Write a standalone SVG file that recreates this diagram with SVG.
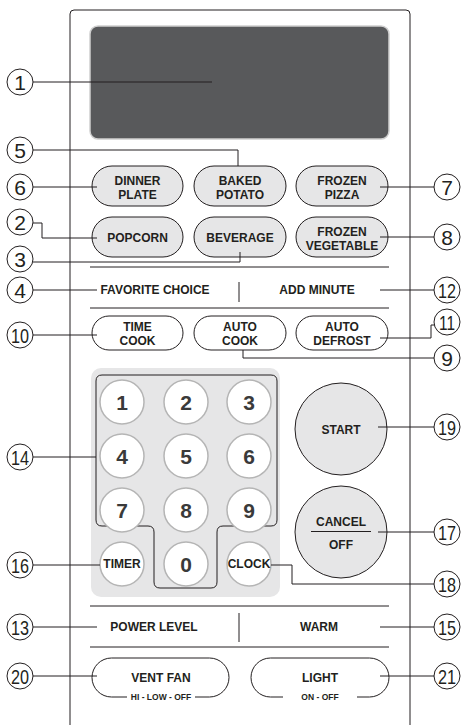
<svg xmlns="http://www.w3.org/2000/svg" width="466" height="725" viewBox="0 0 466 725">
<style>
.ln{fill:none;stroke:#231f20;stroke-width:1}
.pill{fill:#e6e6e7;stroke:#231f20;stroke-width:1}
.wpill{fill:#fff;stroke:#231f20;stroke-width:1}
.t{font-family:"Liberation Sans",Arial,sans-serif;font-weight:bold;font-size:12px;fill:#231f20;text-anchor:middle}
.ts{font-family:"Liberation Sans",Arial,sans-serif;font-weight:bold;font-size:8.5px;fill:#231f20;text-anchor:middle}
.key{fill:#fff;stroke:#b5b5b5;stroke-width:1.5}
.dg{font-family:"Liberation Sans",Arial,sans-serif;font-weight:bold;font-size:21px;fill:#3a3a3a;text-anchor:middle}
.ck{fill:#fff;stroke:#231f20;stroke-width:1}
.cn{font-family:"Liberation Sans",Arial,sans-serif;font-size:21px;fill:#231f20;text-anchor:middle}
</style>
<g id="panel">
<path class="ln" d="M70 725 V14 Q70 10 74 10 H406 Q410 10 410 14 V725" stroke-width="1.2"/>
</g>
<g id="display">
<rect x="90" y="26" width="299" height="113" rx="8" fill="#58595b" stroke="#cfcfcf" stroke-width="1.5"/>
</g>
<g id="dinner-plate">
<rect class="pill" x="92" y="166" width="91" height="40" rx="20"/>
<text class="t" x="137.5" y="185">DINNER</text><text class="t" x="137.5" y="198.5">PLATE</text>
</g>
<g id="baked-potato">
<rect class="pill" x="194" y="166" width="92" height="40" rx="20"/>
<text class="t" x="240" y="185">BAKED</text><text class="t" x="240" y="198.5">POTATO</text>
</g>
<g id="frozen-pizza">
<rect class="pill" x="296" y="166" width="92" height="40" rx="20"/>
<text class="t" x="342" y="185">FROZEN</text><text class="t" x="342" y="198.5">PIZZA</text>
</g>
<g id="popcorn">
<rect class="pill" x="92" y="217" width="91" height="40" rx="20"/>
<text class="t" x="137.5" y="242">POPCORN</text>
</g>
<g id="beverage">
<rect class="pill" x="194" y="217" width="92" height="40" rx="20"/>
<text class="t" x="240" y="242">BEVERAGE</text>
</g>
<g id="frozen-vegetable">
<rect class="pill" x="296" y="217" width="92" height="40" rx="20"/>
<text class="t" x="342" y="236">FROZEN</text><text class="t" x="342" y="249.5">VEGETABLE</text>
</g>
<g id="favorite-add">
<line class="ln" x1="90" y1="267" x2="389" y2="267"/>
<line class="ln" x1="239" y1="282" x2="239" y2="302"/>
<line class="ln" x1="90" y1="308" x2="389" y2="308"/>
<text class="t" x="155" y="294">FAVORITE CHOICE</text>
<text class="t" x="317" y="294">ADD MINUTE</text>
</g>
<g id="time-cook">
<rect class="wpill" x="92" y="316" width="91" height="34" rx="17"/>
<text class="t" x="137.5" y="331">TIME</text><text class="t" x="137.5" y="344.5">COOK</text>
</g>
<g id="auto-cook">
<rect class="wpill" x="194" y="316" width="92" height="34" rx="17"/>
<text class="t" x="240" y="331">AUTO</text><text class="t" x="240" y="344.5">COOK</text>
</g>
<g id="auto-defrost">
<rect class="wpill" x="296" y="316" width="92" height="34" rx="17"/>
<text class="t" x="342" y="331">AUTO</text><text class="t" x="342" y="344.5">DEFROST</text>
</g>
<g id="keypad">
<rect x="91" y="368" width="189" height="229" rx="10" fill="#e6e6e7"/>
<path class="ln" stroke-width="1.2" d="M102 375 H271 Q277 375 277 381 V520 Q277 526 271 526 H223 Q217 526 217 532 V582 Q217 588 211 588 H160 Q154 588 154 582 V532 Q154 526 148 526 H102 Q96 526 96 520 V381 Q96 375 102 375 Z"/>
<circle class="key" cx="122" cy="402" r="22"/><text class="dg" x="122" y="409.5">1</text>
<circle class="key" cx="186" cy="402" r="22"/><text class="dg" x="186" y="409.5">2</text>
<circle class="key" cx="249" cy="402" r="22"/><text class="dg" x="249" y="409.5">3</text>
<circle class="key" cx="122" cy="456" r="22"/><text class="dg" x="122" y="463.5">4</text>
<circle class="key" cx="186" cy="456" r="22"/><text class="dg" x="186" y="463.5">5</text>
<circle class="key" cx="249" cy="456" r="22"/><text class="dg" x="249" y="463.5">6</text>
<circle class="key" cx="122" cy="510" r="22"/><text class="dg" x="122" y="517.5">7</text>
<circle class="key" cx="186" cy="510" r="22"/><text class="dg" x="186" y="517.5">8</text>
<circle class="key" cx="249" cy="510" r="22"/><text class="dg" x="249" y="517.5">9</text>
<circle class="key" cx="186" cy="564" r="22"/><text class="dg" x="186" y="571.5">0</text>
</g>
<g id="timer">
<circle class="key" cx="122" cy="564" r="22"/><text class="t" x="122" y="568" font-size="10.5">TIMER</text>
</g>
<g id="clock">
<circle class="key" cx="249" cy="564" r="22"/><text class="t" x="249" y="568" font-size="10.5">CLOCK</text>
</g>
<g id="start">
<circle class="pill" cx="341" cy="429" r="46"/>
<text class="t" x="341" y="434" font-size="14">START</text>
</g>
<g id="cancel-off">
<circle class="pill" cx="341" cy="532" r="46"/>
<text class="t" x="341" y="526" font-size="14">CANCEL</text>
<line class="ln" x1="311" y1="531.5" x2="371" y2="531.5"/>
<text class="t" x="341" y="549" font-size="14">OFF</text>
</g>
<g id="power-warm">
<line class="ln" x1="90" y1="606" x2="389" y2="606"/>
<line class="ln" x1="239" y1="613" x2="239" y2="642"/>
<line class="ln" x1="90" y1="647" x2="389" y2="647"/>
<text class="t" x="154" y="631">POWER LEVEL</text>
<text class="t" x="319" y="631">WARM</text>
</g>
<g id="vent-fan">
<path class="ln" d="M127 697 H111.5 A19.5 19.5 0 0 1 111.5 658 H209.5 A19.5 19.5 0 0 1 209.5 697 H195"/>
<text class="t" x="161" y="682" font-size="14">VENT FAN</text>
<text class="ts" x="161" y="700">HI - LOW - OFF</text>
</g>
<g id="light">
<path class="ln" d="M283 697 H270.5 A19.5 19.5 0 0 1 270.5 658 H369.5 A19.5 19.5 0 0 1 369.5 697 H357"/>
<text class="t" x="320" y="682" font-size="14">LIGHT</text>
<text class="ts" x="320" y="700">ON - OFF</text>
</g>
<g id="connectors">
<polyline class="ln" points="33,82 212,82"/>
<polyline class="ln" points="33,150 238,150 238,166"/>
<polyline class="ln" points="33,187 97,187"/>
<polyline class="ln" points="33,223 42,223 42,238 97,238"/>
<polyline class="ln" points="33,262 240,262 240,252"/>
<polyline class="ln" points="33,290 97,290"/>
<polyline class="ln" points="33,335 97,335"/>
<polyline class="ln" points="33,457 96,457"/>
<polyline class="ln" points="33,565 100,565"/>
<polyline class="ln" points="33,627 97,627"/>
<polyline class="ln" points="33,676 97,676"/>
<polyline class="ln" points="380,187 434,187"/>
<polyline class="ln" points="380,237 434,237"/>
<polyline class="ln" points="380,290 434,290"/>
<polyline class="ln" points="380,338 431,338 431,325 435,325"/>
<polyline class="ln" points="243,350 243,358 434,358"/>
<polyline class="ln" points="378,427 434,427"/>
<polyline class="ln" points="378,532 434,532"/>
<polyline class="ln" points="271,565 292,565 292,584 434,584"/>
<polyline class="ln" points="380,627 434,627"/>
<polyline class="ln" points="380,676 434,676"/>
</g>
<g id="callout-1"><circle class="ck" cx="20" cy="82" r="13"/><text class="cn" x="20" y="89.5">1</text></g>
<g id="callout-5"><circle class="ck" cx="20" cy="150" r="13"/><text class="cn" x="20" y="157.5">5</text></g>
<g id="callout-6"><circle class="ck" cx="20" cy="187" r="13"/><text class="cn" x="20" y="194.5">6</text></g>
<g id="callout-2"><circle class="ck" cx="20" cy="222" r="13"/><text class="cn" x="20" y="229.5">2</text></g>
<g id="callout-3"><circle class="ck" cx="20" cy="259" r="13"/><text class="cn" x="20" y="266.5">3</text></g>
<g id="callout-4"><circle class="ck" cx="20" cy="290" r="13"/><text class="cn" x="20" y="297.5">4</text></g>
<g id="callout-10"><circle class="ck" cx="20" cy="335" r="13"/><text class="cn" x="20" y="342.5" textLength="18" lengthAdjust="spacingAndGlyphs">10</text></g>
<g id="callout-14"><circle class="ck" cx="20" cy="457" r="13"/><text class="cn" x="20" y="464.5" textLength="18" lengthAdjust="spacingAndGlyphs">14</text></g>
<g id="callout-16"><circle class="ck" cx="20" cy="565" r="13"/><text class="cn" x="20" y="572.5" textLength="18" lengthAdjust="spacingAndGlyphs">16</text></g>
<g id="callout-13"><circle class="ck" cx="20" cy="627" r="13"/><text class="cn" x="20" y="634.5" textLength="18" lengthAdjust="spacingAndGlyphs">13</text></g>
<g id="callout-20"><circle class="ck" cx="20" cy="676" r="13"/><text class="cn" x="20" y="683.5" textLength="18" lengthAdjust="spacingAndGlyphs">20</text></g>
<g id="callout-7"><circle class="ck" cx="447" cy="187" r="13"/><text class="cn" x="447" y="194.5">7</text></g>
<g id="callout-8"><circle class="ck" cx="447" cy="237" r="13"/><text class="cn" x="447" y="244.5">8</text></g>
<g id="callout-12"><circle class="ck" cx="447" cy="290" r="13"/><text class="cn" x="447" y="297.5" textLength="18" lengthAdjust="spacingAndGlyphs">12</text></g>
<g id="callout-11"><circle class="ck" cx="447" cy="322" r="13"/><text class="cn" x="447" y="329.5" textLength="16" lengthAdjust="spacingAndGlyphs">11</text></g>
<g id="callout-9"><circle class="ck" cx="447" cy="358" r="13"/><text class="cn" x="447" y="365.5">9</text></g>
<g id="callout-19"><circle class="ck" cx="447" cy="427" r="13"/><text class="cn" x="447" y="434.5" textLength="18" lengthAdjust="spacingAndGlyphs">19</text></g>
<g id="callout-17"><circle class="ck" cx="447" cy="532" r="13"/><text class="cn" x="447" y="539.5" textLength="18" lengthAdjust="spacingAndGlyphs">17</text></g>
<g id="callout-18"><circle class="ck" cx="447" cy="584" r="13"/><text class="cn" x="447" y="591.5" textLength="18" lengthAdjust="spacingAndGlyphs">18</text></g>
<g id="callout-15"><circle class="ck" cx="447" cy="627" r="13"/><text class="cn" x="447" y="634.5" textLength="18" lengthAdjust="spacingAndGlyphs">15</text></g>
<g id="callout-21"><circle class="ck" cx="447" cy="676" r="13"/><text class="cn" x="447" y="683.5" textLength="18" lengthAdjust="spacingAndGlyphs">21</text></g>
</svg>
